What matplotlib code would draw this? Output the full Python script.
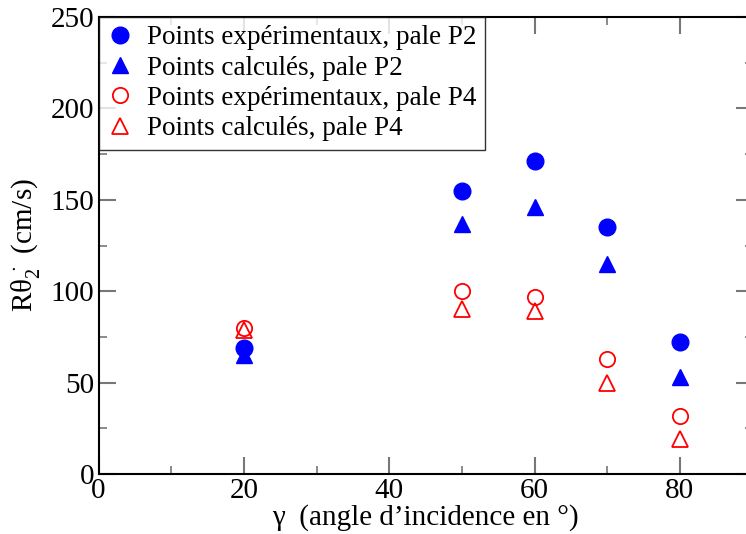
import numpy as np
import matplotlib.pyplot as plt
from matplotlib.ticker import MultipleLocator

plt.rcParams['font.family'] = ['Liberation Serif', 'DejaVu Serif']
plt.rcParams['mathtext.fontset'] = 'custom'
plt.rcParams['mathtext.rm'] = 'Liberation Serif'

# Data
gamma = [20, 50, 60, 70, 80]
exp_p2 = [69, 155, 171, 135, 72]
calc_p2 = [65, 137, 146, 115, 53]
exp_p4 = [80, 100, 97, 63, 32]
calc_p4 = [79, 90, 89, 50, 19]

fig = plt.figure(figsize=(7.46, 5.34), dpi=100)
ax = fig.add_axes([98.6 / 746, (534 - 474) / 534, 654 / 746, 457 / 534])

ax.plot(gamma, exp_p2, 'o', color='blue', ms=12, ls='none',
        label='Points expérimentaux, pale P2')
ax.plot(gamma, calc_p2, '^', color='blue', ms=11, ls='none',
        label='Points calculés, pale P2')
ax.plot(gamma, exp_p4, 'o', mfc='none', mec='red', mew=1.3, ms=11, ls='none',
        label='Points expérimentaux, pale P4')
ax.plot(gamma, calc_p4, '^', mfc='none', mec='red', mew=1.3, ms=11, ls='none',
        label='Points calculés, pale P4')

ax.set_xlim(0, 90)
ax.set_ylim(0, 250)
ax.xaxis.set_major_locator(MultipleLocator(20))
ax.xaxis.set_minor_locator(MultipleLocator(10))
ax.yaxis.set_major_locator(MultipleLocator(50))
ax.yaxis.set_minor_locator(MultipleLocator(25))
ax.tick_params(which='both', direction='in', top=True, right=True,
               labelsize=21, color='#777777')
ax.tick_params(which='major', length=12, width=1.5, pad=3)
ax.tick_params(which='minor', length=6, width=1.2)
for s in ax.spines.values():
    s.set_linewidth(1.5)

ax.set_xlabel('γ  (angle d’incidence en °)', fontsize=21, labelpad=0)
ax.set_ylabel(r'Rθ$_2^{\,\cdot}$ (cm/s)', fontsize=21, labelpad=6)

leg = ax.legend(loc='upper left', borderaxespad=0, fontsize=19.5, frameon=True,
                fancybox=False, handletextpad=0.5, borderpad=0.3,
                labelspacing=0.2, handlelength=1.0)
leg.get_frame().set_edgecolor('black')
leg.get_frame().set_linewidth(1.0)

fig.savefig('out.png', dpi=100)
